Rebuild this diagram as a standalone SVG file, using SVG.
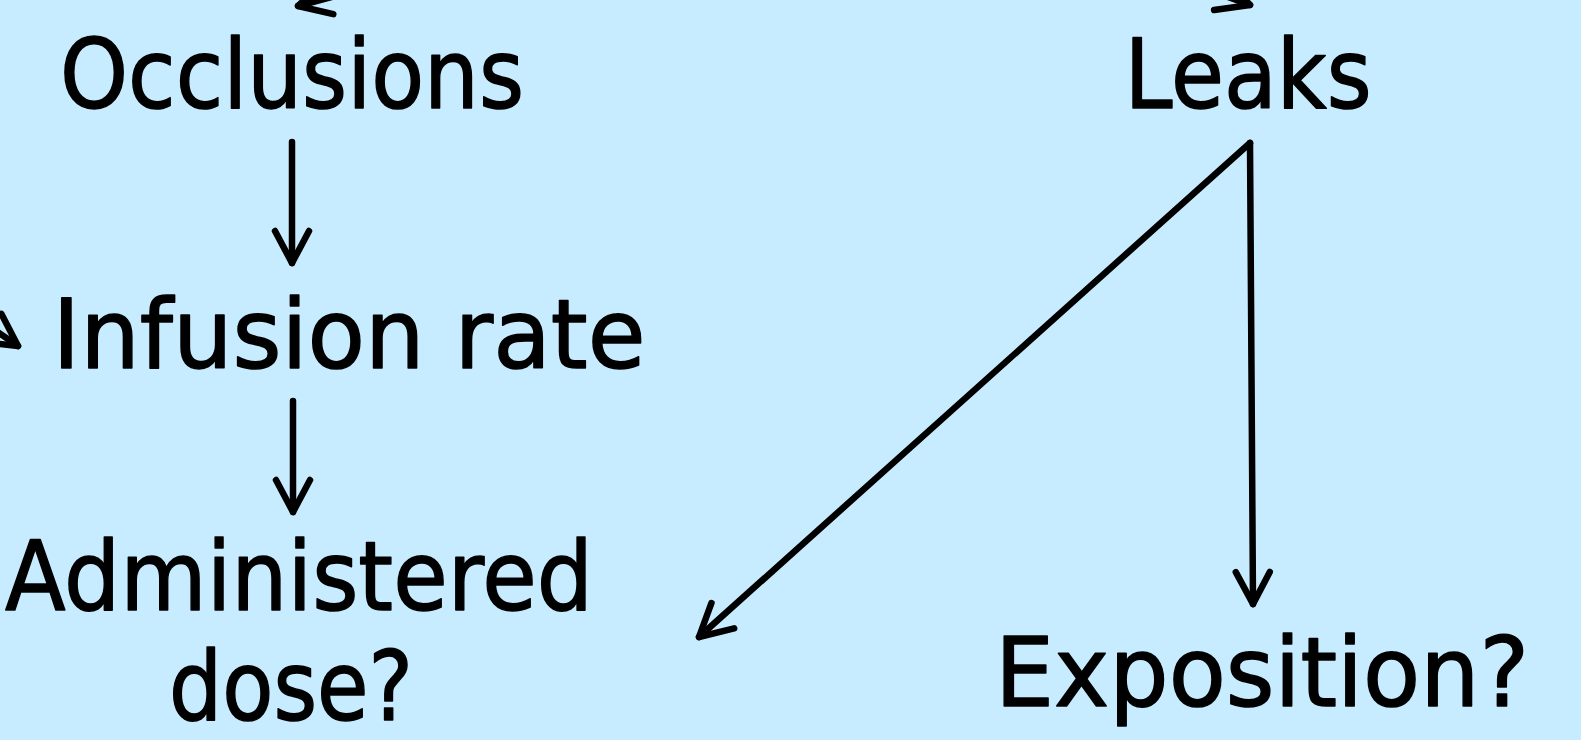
<svg xmlns="http://www.w3.org/2000/svg" width="1581" height="740" viewBox="0 0 1581 740">
  <style>
    .bg { fill: #C8ECFF; }
    .lbl { font-family: "Comic Sans MS", "DejaVu Sans", sans-serif; font-size: 96px; fill: #000; stroke: #000; stroke-width: 1.5; stroke-linejoin: round; text-anchor: middle; }
    .conn { stroke: #000; stroke-width: 6.5; fill: none; stroke-linecap: round; stroke-linejoin: round; }
  </style>
  <defs>
    <marker id="ah" markerUnits="userSpaceOnUse" viewBox="-40 -24 48 48" refX="0" refY="0" markerWidth="48" markerHeight="48" orient="auto" overflow="visible">
      <path d="M -32 -17 L 0 0 L -32 17" fill="none" stroke="#000" stroke-width="6.5" stroke-linecap="round" stroke-linejoin="round"/>
    </marker>
  </defs>
  <rect class="bg" x="0" y="0" width="1581" height="740"/>

  <g id="connectors">
    <path class="conn" d="M 1100 -50 L 1250 5" marker-end="url(#ah)"/>
    <path class="conn" d="M 470 -40 L 298 6" marker-end="url(#ah)"/>
    <path class="conn" d="M -40 306 L 18 346" marker-end="url(#ah)"/>
    <path class="conn" d="M 292 142 L 292 263" marker-end="url(#ah)"/>
    <path class="conn" d="M 293 401 L 293 512" marker-end="url(#ah)"/>
    <path class="conn" d="M 1250 143 L 699 637" marker-end="url(#ah)"/>
    <path class="conn" d="M 1250 143 L 1253 604" marker-end="url(#ah)"/>
  </g>

  <g id="occlusions"><text class="lbl" x="292" y="108" textLength="464" lengthAdjust="spacingAndGlyphs">Occlusions</text></g>
  <g id="leaks"><text class="lbl" x="1248" y="108" textLength="247" lengthAdjust="spacingAndGlyphs">Leaks</text></g>
  <g id="infusion-rate"><text class="lbl" x="349" y="368" textLength="593" lengthAdjust="spacingAndGlyphs">Infusion rate</text></g>
  <g id="administered-dose">
    <text class="lbl" x="299" y="610" textLength="588" lengthAdjust="spacingAndGlyphs">Administered</text>
    <text class="lbl" x="291" y="720" textLength="244" lengthAdjust="spacingAndGlyphs">dose?</text>
  </g>
  <g id="exposition"><text class="lbl" x="1262" y="706" textLength="534" lengthAdjust="spacingAndGlyphs">Exposition?</text></g>
</svg>
